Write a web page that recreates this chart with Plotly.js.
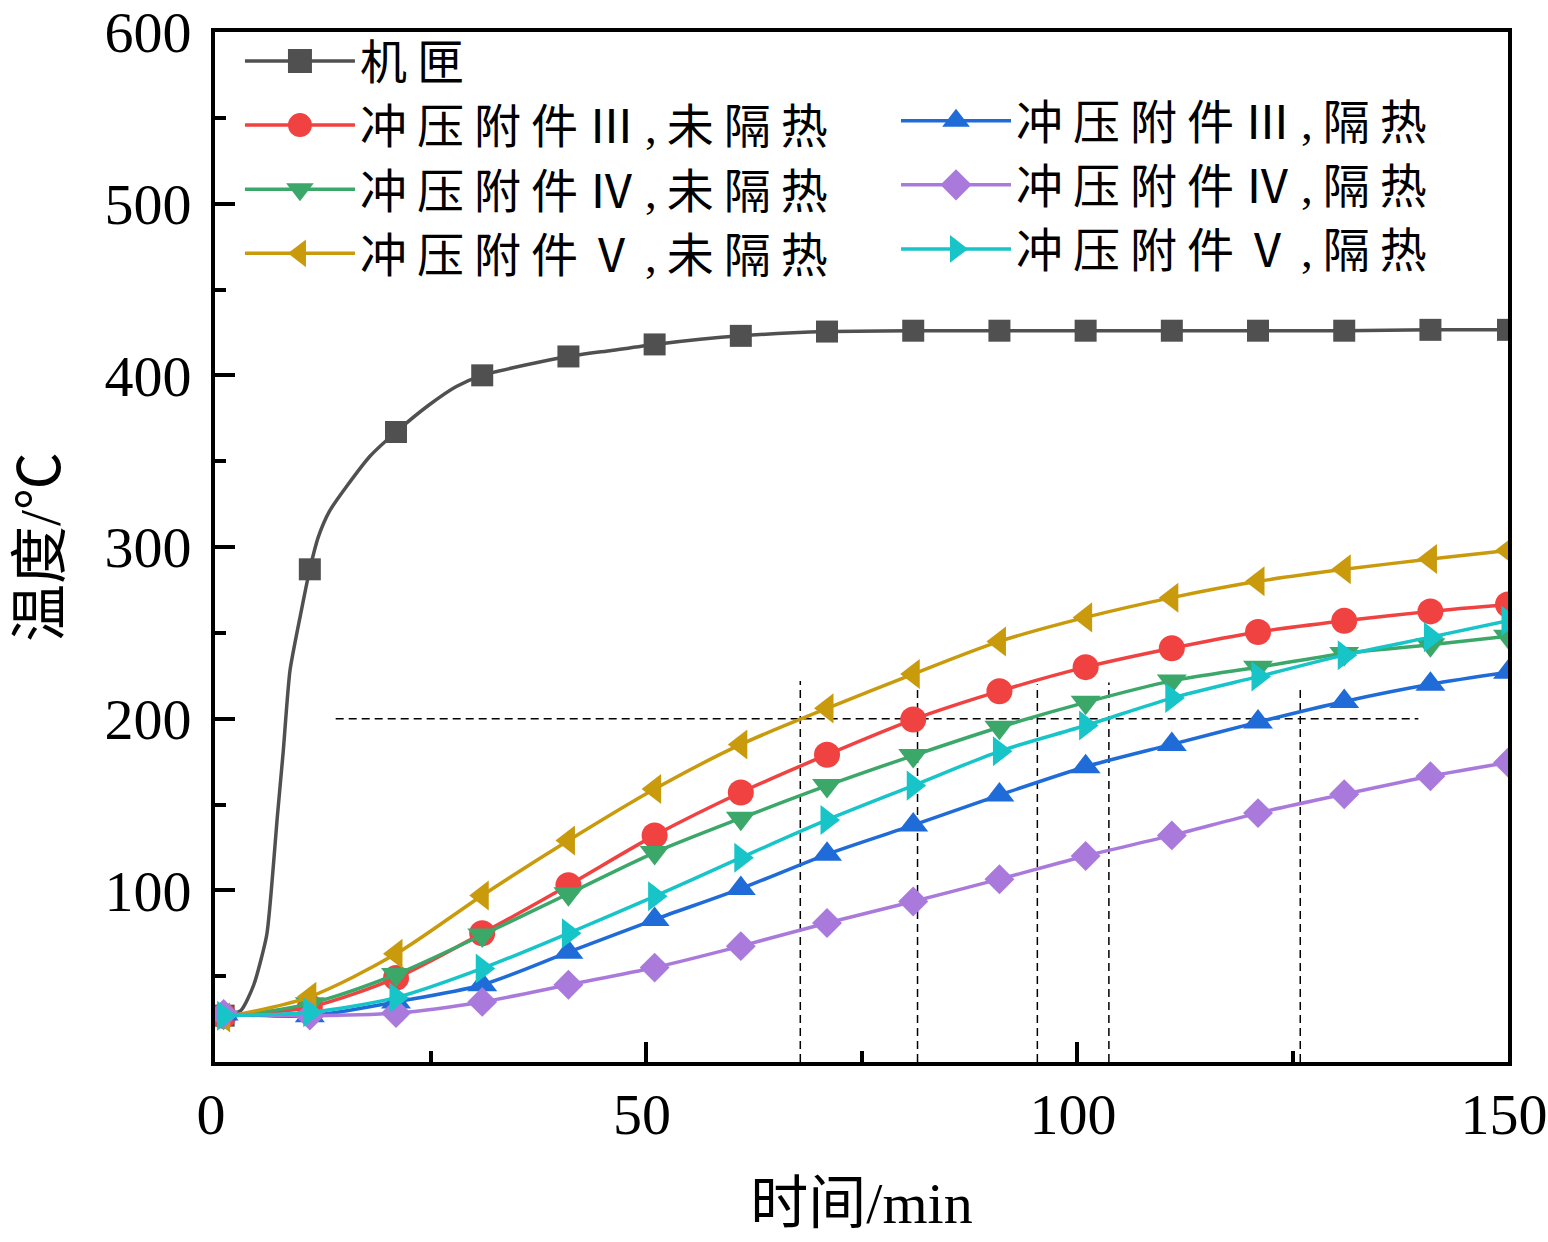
<!DOCTYPE html>
<html>
<head>
<meta charset="utf-8">
<script src="https://cdn.plot.ly/plotly-3.0.1.min.js"></script>
<style>
body{margin:0;background:#fff}
.legendtext,.legend2text{letter-spacing:10px}
</style>
</head>
<body>
<div id="chart" style="width:1548px;height:1242px"></div>
<script>
// time in minutes, one marker every 10 min
var time = [1, 11, 21, 31, 41, 51, 61, 71, 81, 91, 101, 111, 121, 131, 141, 150];

// casing curve, read more densely because of the steep start
var caseTime = [1, 3, 4.5, 6, 6.7, 7.2, 7.9, 8.7, 9.9, 11, 12, 13.3, 15.3, 18, 21, 24.9, 28, 31, 36, 41, 46, 51, 61, 71, 81, 91, 101, 111, 121, 131, 141, 150];
var caseTemp = [27, 30, 45, 74, 110, 141, 180, 228, 260, 287, 306, 321, 335.5, 353, 367, 383, 393.5, 400, 406, 411, 414.5, 418, 423, 425.5, 426, 426, 426, 426, 426, 426, 426.5, 426.5];
var caseMark = [27, 287, 367, 400, 411, 418, 423, 425.5, 426, 426, 426, 426, 426, 426, 426.5, 426.5];

var p3Bare = [27, 32, 49, 75, 103, 132, 157, 179, 199.5, 216, 230, 241, 250.5, 257, 262.5, 266.5];
var p4Bare = [26, 34, 51, 74, 98, 122, 142, 161, 178.5, 195, 209.5, 222, 230, 238, 243, 248];
var p5Bare = [26, 38, 63, 97, 129, 159, 185, 206, 226, 245, 259, 270.5, 280, 287, 293, 298];
var p3Ins = [28, 27, 35, 45, 64, 83, 101, 121, 138, 155.5, 172, 185, 198, 210, 220, 227];
var p4Ins = [28, 27, 28.5, 35, 45, 55, 67.5, 81, 93.5, 106.5, 120, 132, 145, 156, 166.5, 174.5];
var p5Ins = [27, 29, 37.5, 54.5, 75, 96.5, 119, 141, 161, 181, 196, 212, 224.5, 237, 247.5, 257];

// 200 degC guide lines
var guideTemp = 200;
var guideFrom = 14, guideTo = 139.6;
var crossTime = [67.9, 81.5, 95.4, 103.7, 125.9];
var crossTop = [222, 222, 220, 221, 218];

var serif = 'Liberation Serif, "Noto Sans CJK SC", serif';

// markers only, with gaps so the legend still shows a line
var gx = [], gy = [];
for (var i = 0; i < time.length; i++) {
    gx.push(time[i], null);
    gy.push(caseMark[i], null);
}

function series(name, y, color, symbol, size, legend) {
    return {
        x: time, y: y, name: name, type: 'scatter', mode: 'lines+markers',
        line: {color: color, width: 3.5, shape: 'spline', smoothing: 0.8},
        marker: {color: color, symbol: symbol, size: size},
        legend: legend
    };
}

var data = [
    {x: caseTime, y: caseTemp, type: 'scatter', mode: 'lines', showlegend: false,
     line: {color: '#505050', width: 3.5, shape: 'spline', smoothing: 0.6}},
    {x: gx, y: gy, name: '机匣', type: 'scatter', mode: 'lines+markers', connectgaps: false,
     line: {color: '#505050', width: 3.5}, marker: {color: '#505050', symbol: 'square', size: 22},
     legend: 'legend'},
    series('冲压附件Ⅲ,未隔热', p3Bare, '#F04240', 'circle', 26, 'legend'),
    series('冲压附件Ⅳ,未隔热', p4Bare, '#3BA86A', 'triangle-down', 26, 'legend'),
    series('冲压附件Ⅴ,未隔热', p5Bare, '#C99A0C', 'triangle-left', 26, 'legend'),
    series('冲压附件Ⅲ,隔热', p3Ins, '#1F6BD8', 'triangle-up', 26, 'legend2'),
    series('冲压附件Ⅳ,隔热', p4Ins, '#A97ADB', 'diamond', 23, 'legend2'),
    series('冲压附件Ⅴ,隔热', p5Ins, '#17C4C8', 'triangle-right', 26, 'legend2')
];

var shapes = [{
    type: 'line', xref: 'x', yref: 'y', x0: guideFrom, x1: guideTo, y0: guideTemp, y1: guideTemp,
    line: {color: '#000', width: 1.5, dash: '8px,5px'}, layer: 'below'
}];
crossTime.forEach(function (t, k) {
    shapes.push({
        type: 'line', xref: 'x', yref: 'y', x0: t, x1: t, y0: 0, y1: crossTop[k],
        line: {color: '#000', width: 1.5, dash: '8px,5px'}, layer: 'below'
    });
});

var legendStyle = {
    xanchor: 'left', yanchor: 'top', bgcolor: 'rgba(0,0,0,0)',
    font: {family: serif, size: 47, color: '#000'}, itemwidth: 110, tracegroupgap: 0
};

var layout = {
    width: 1548, height: 1242,
    margin: {l: 215, r: 40, t: 32, b: 180},
    paper_bgcolor: '#fff', plot_bgcolor: '#fff',
    font: {family: serif, color: '#000'},
    showlegend: true,
    legend: Object.assign({x: 0.0193, y: 1.0078}, legendStyle),
    legend2: Object.assign({x: 0.5267, y: 0.9498}, legendStyle),
    xaxis: {
        range: [0, 150], tickvals: [0, 50, 100, 150],
        ticks: 'inside', ticklen: 20, tickwidth: 4, tickcolor: '#000',
        minor: {tickvals: [25, 75, 125], ticks: 'inside', ticklen: 11, tickwidth: 4, tickcolor: '#000'},
        showline: true, linewidth: 4, linecolor: '#000', mirror: true,
        showgrid: false, zeroline: false, ticklabelstandoff: -2, ticklabelshift: -4,
        ticklabeloverflow: 'allow',
        tickfont: {family: serif, size: 58, color: '#000'},
        title: {text: '时间/min', font: {family: serif, size: 58, color: '#000'}, standoff: 38}
    },
    yaxis: {
        range: [0, 600], tickvals: [100, 200, 300, 400, 500, 600],
        ticks: 'inside', ticklen: 20, tickwidth: 4, tickcolor: '#000',
        minor: {tickvals: [50, 150, 250, 350, 450, 550], ticks: 'inside', ticklen: 11, tickwidth: 4, tickcolor: '#000'},
        showline: true, linewidth: 4, linecolor: '#000', mirror: true,
        showgrid: false, zeroline: false, ticklabelstandoff: 8,
        ticklabeloverflow: 'allow',
        tickfont: {family: serif, size: 58, color: '#000'},
        title: {text: '温度/℃', font: {family: serif, size: 58, color: '#000'}, standoff: 26}
    },
    shapes: shapes
};

Plotly.newPlot('chart', data, layout, {displayModeBar: false, staticPlot: true}).then(function (gd) {
    // enlarge the legend symbols to the size used in the plot
    gd.querySelectorAll('.legendpoints path.scatterpts').forEach(function (p) {
        var t = p.getAttribute('transform') || '';
        p.setAttribute('transform', t + ' scale(1.5)');
    });
});
</script>
</body>
</html>
